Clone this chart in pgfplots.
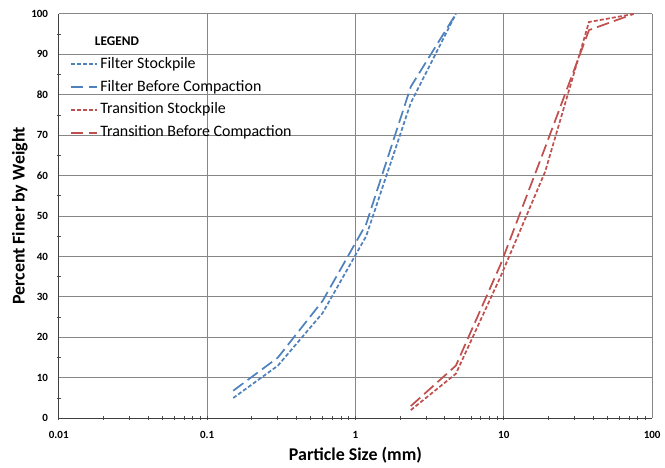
\documentclass[border=0pt]{standalone}
\usepackage{pgfplots}
\pgfplotsset{compat=1.18}
\usepackage{fontspec}
\setmainfont{Carlito}

\definecolor{fblue}{HTML}{4F81BD}
\definecolor{tred}{HTML}{C0504D}
\definecolor{gridgray}{HTML}{868686}

\begin{document}
\begin{tikzpicture}
\begin{axis}[
    name=ax,
    xmode=log,
    scale only axis,
    width=447pt, height=304.5pt,
    xmin=0.01, xmax=100,
    ymin=0, ymax=100,
    xtick={0.01,0.1,1,10,100},
    xticklabels={0.01,0.1,1,10,100},
    ytick={0,10,20,30,40,50,60,70,80,90,100},
    yticklabels={0,10,20,30,40,50,60,70,80,90,100},
    minor ytick={5,15,25,35,45,55,65,75,85,95},
    tick align=inside,
    major tick length=0pt,
    minor tick length=3pt,
    tick style={black!70, line width=0.6pt},
    axis x line=bottom, axis y line=left,
    axis line style={black!75, line width=0.7pt, -},
    grid=major,
    major grid style={gridgray, line width=0.7pt},
    ticklabel style={font=\fontsize{8.3}{9}\selectfont\bfseries},
    yticklabel style={xshift=-4.5pt},
    xticklabel style={yshift=-6.5pt},
    xlabel={Particle Size (mm)},
    ylabel={Percent Finer by Weight},
    label style={font=\fontsize{13.5}{15}\selectfont\bfseries},
    xlabel style={at={(axis description cs:0.5,-0.092)}, anchor=center},
    ylabel style={at={(axis description cs:-0.0654,0.5)}, anchor=center},
    legend cell align=left,
    legend style={
      at={(axis description cs:0.0185,0.951)}, anchor=north west,
      draw=none, fill=none, inner sep=0pt,
      font=\fontsize{12}{13}\selectfont,
      nodes={inner sep=0pt, text height=8.5pt, text depth=2.5pt},
      row sep=6.25pt, column sep=1.5pt,
    },
    legend image code/.code={\draw[#1] (0pt,0pt) -- (20pt,0pt);},
]
\addlegendimage{empty legend}
\addlegendentry{\hspace*{-4pt}\fontsize{10}{11}\selectfont\bfseries LEGEND}

% Filter Stockpile
\addplot[color=fblue, line width=1.3pt, dash pattern=on 3pt off 1.6pt] coordinates {
  (0.15,5)(0.3,13)(0.6,26)(1.18,45)(2.36,78)(4.75,100)
};
\addlegendentry{Filter Stockpile}

% Filter Before Compaction
\addplot[color=fblue, line width=1.3pt, dash pattern=on 9.5pt off 4pt] coordinates {
  (0.15,6.8)(0.3,15)(0.6,29)(1.18,48)(2.36,82)(4.75,100)
};
\addlegendentry{Filter Before Compaction}

% Transition Stockpile
\addplot[color=tred, line width=1.3pt, dash pattern=on 3pt off 1.6pt] coordinates {
  (2.36,2)(4.75,11)(9.5,35)(19,61)(37.5,98)(75,100)
};
\addlegendentry{Transition Stockpile}

% Transition Before Compaction
\addplot[color=tred, line width=1.3pt, dash pattern=on 9.5pt off 4pt] coordinates {
  (2.36,3)(4.75,13)(9.5,38)(19,67)(37.5,96)(75,100)
};
\addlegendentry{Transition Before Compaction}
\end{axis}
\path (ax.south west) ++(-44.25pt,-33pt) coordinate (bl);
\path (ax.north east) ++(7.5pt,10.5pt) coordinate (tr);
\path (bl) rectangle (tr);
\end{tikzpicture}
\end{document}
